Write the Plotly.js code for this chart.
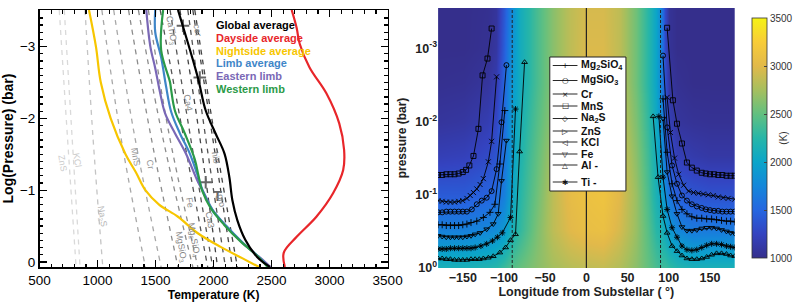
<!DOCTYPE html>
<html><head><meta charset="utf-8">
<script src="https://cdn.plot.ly/plotly-3.0.1.min.js"></script>
<style>body{margin:0;background:#fff}#chart{width:806px;height:307px}</style>
</head><body><div id="chart"></div>
<script>
// ================= LEFT PANEL: T-P profiles =================
const globalT   = [1693,1864,1932,2017,2094,2136,2162,2205,2273,2375,2486];
const globalLP  = [-3.51,-2.57,-2.11,-1.79,-1.51,-1.18,-0.86,-0.58,-0.31,-0.07,0.07];
const daysideT  = [2673,2716,2742,2827,2972,3083,3125,3117,3031,2886,2716,2605,2614];
const daysideLP = [-3.51,-3.26,-3.04,-2.71,-2.35,-1.93,-1.56,-1.28,-0.96,-0.63,-0.35,-0.13,0.07];
const nightT    = [926,986,1028,1113,1241,1330,1412,1530,1693,1864,2060,2250,2392];
const nightLP   = [-3.51,-3.0,-2.5,-2.0,-1.5,-1.25,-1.0,-0.8,-0.63,-0.40,-0.21,-0.05,0.07];
const limbT     = [1497,1497,1548,1590,1633,1710,1795,1864,1910,1990,2110,2250,2390,2475];
const limbLP    = [-3.51,-3.2,-2.85,-2.45,-2.1,-1.79,-1.51,-1.2,-0.98,-0.73,-0.5,-0.27,-0.07,0.07];
const eastT     = [1420,1455,1497,1540,1582,1668,1761,1864,1920,2000,2120,2260,2400,2490];
const eastLP    = [-3.51,-3.0,-2.7,-2.35,-2.07,-1.79,-1.51,-1.12,-0.95,-0.70,-0.48,-0.25,-0.06,0.07];
const westT     = [1565,1548,1625,1634,1668,1752,1838,1870,1900,1975,2090,2230,2380,2465];
const westLP    = [-3.51,-2.95,-2.5,-2.4,-2.1,-1.79,-1.43,-1.2,-1.0,-0.75,-0.52,-0.29,-0.08,0.07];

// condensation curves (T at logP = -3.5, -1.75, 0.07)
const condLP    = [-3.51,-1.75,0.07];
const condNames = ['ZnS','KCl','Na2S','MnS','Cr','MgSiO3','Mg2SiO4','Fe','CaTiO3','Ca4','cor','Ca3','hib','gro'];
const condT = {
  'ZnS':    [670,740,815],
  'KCl':    [713,780,849],
  'Na2S':   [892,960,1045],
  'MnS':    [1037,1200,1412],
  'Cr':     [1139,1320,1548],
  'MgSiO3': [1267,1460,1693],
  'Mg2SiO4':[1352,1560,1821],
  'Fe':     [1438,1620,1864],
  'CaTiO3': [1540,1740,1949],
  'Ca4':    [1625,1800,1992],
  'cor':    [1710,1880,2034],
  'Ca3':    [1778,1930,2102],
  'hib':    [1821,1990,2162],
  'gro':    [1838,2010,2205]
};
const condColor = {
  'ZnS':'#d9d9d9','KCl':'#d9d9d9','Na2S':'#c4c4c4','MnS':'#a8a8a8','Cr':'#a8a8a8',
  'MgSiO3':'#8c8c8c','Mg2SiO4':'#8c8c8c','Fe':'#8c8c8c','CaTiO3':'#555555','Ca4':'#555555',
  'cor':'#444444','Ca3':'#555555','hib':'#444444','gro':'#444444'
};
const condLabels = [
  ['ZnS',696,-1.375,'#cccccc'],['KCl',824,-1.42,'#cccccc'],['Na<sub>2</sub>S',1037,-0.63,'#b8b8b8'],
  ['MnS',1327,-1.46,'#999999'],['Cr',1455,-1.35,'#999999'],['Fe',1795,-0.82,'#888888'],
  ['Mg<sub>2</sub>SiO<sub>4</sub>',1830,-0.30,'#888888'],['MgSiO<sub>3</sub>',1715,-0.21,'#888888'],
  ['CaTiO<sub>3</sub>',1633,-3.22,'#888888'],['Ca4',1778,-2.21,'#888888'],['Ca3',1966,-0.58,'#888888'],
  ['cor',1864,-3.22,'#888888'],['hib',2017,-1.46,'#888888'],['gro',2065,-0.86,'#888888']
];
// crossing marks
const crossT  = [1736,1881,1932];
const crossLP = [-3.29,-2.57,-1.11];
const teeT  = [2034];
const teeLP = [-0.9];

const profileNames  = ['Global average','Dayside average','Nightside average','Limb average','Eastern limb','Western limb'];
const profileColors = ['#000000','#e8262a','#f7c600','#3f86c8','#7a68b6','#2b9a48'];

// ================= RIGHT PANEL: temperature map =================
const lonGrid = [-180,-150,-120,-110,-100,-90,-80,-60,-40,-20,0,20,40,60,75,85,90,95,100,110,130,150,180];
const pGrid   = [2.8e-4,1e-3,3e-3,1e-2,3e-2,1e-1,3e-1,1];
const tempMap = [
 [1000,1000,1020,1080,1400,1800,2100,2400,2650,2850,2950,2950,2850,2550,2250,2000,1800,1300,1050,1000,1000,1000,1000],
 [1000,1000,1030,1100,1450,1850,2100,2400,2650,2850,2970,2970,2850,2550,2250,2000,1800,1300,1050,1000,1000,1000,1000],
 [1020,1030,1080,1180,1500,1900,2100,2400,2650,2870,3000,3000,2870,2550,2250,2000,1800,1350,1100,1030,1000,1000,1000],
 [1080,1100,1180,1280,1550,1950,2150,2450,2700,2920,3030,3040,2900,2600,2300,2050,1850,1450,1200,1080,1050,1040,1040],
 [1200,1220,1300,1380,1600,1950,2200,2500,2780,2980,3070,3090,2950,2650,2350,2100,1950,1600,1350,1200,1150,1120,1120],
 [1420,1420,1480,1550,1700,2000,2250,2550,2850,3050,3110,3140,3000,2700,2400,2150,2050,1800,1600,1450,1380,1350,1350],
 [1700,1700,1750,1800,1900,2150,2300,2600,2850,3000,3070,3090,2950,2700,2450,2250,2200,2050,1900,1750,1650,1650,1650],
 [2150,2150,2200,2250,2350,2450,2520,2650,2750,2820,2850,2870,2800,2650,2500,2400,2350,2350,2300,2220,2150,2150,2150]
];

// condensation fronts: longitude / log10 pressure, west and east of the substellar point
const species = ['Mg<sub>2</sub>SiO<sub>4</sub>','MgSiO<sub>3</sub>','Cr','MnS','Na<sub>2</sub>S','ZnS','KCl','Fe','Al -','Ti -'];
const speciesSymbols = ['cross-thin-open','circle-open','x-thin-open','square-open','diamond-open','triangle-right-open','triangle-left-open','triangle-down-open','triangle-up-open','asterisk-open'];
const legendGlyphs = ['+','○','×','□','◇','▷','◁','▽','△','✱'];

const mnsWLon = [-180,-175,-170,-165,-160,-155,-150,-146,-142,-137,-131,-126,-120,-115];
const mnsWLP  = [-1.27,-1.27,-1.28,-1.28,-1.28,-1.29,-1.31,-1.34,-1.40,-1.53,-1.90,-2.63,-2.86,-3.27];
const mnsELon = [98,105,110,116,122,128,134,140,145,150,155,160,165,170,175,180];
const mnsELP  = [-3.28,-2.29,-1.97,-1.70,-1.44,-1.37,-1.33,-1.30,-1.29,-1.28,-1.28,-1.27,-1.27,-1.26,-1.26,-1.26];

const crWLon = [-180,-175,-170,-165,-160,-155,-150,-145,-141,-137,-133,-129,-125,-119,-115,-109];
const crWLP  = [-0.92,-0.91,-0.90,-0.90,-0.90,-0.91,-0.92,-0.95,-0.99,-1.03,-1.08,-1.14,-1.22,-1.45,-1.73,-2.61];
const crELon = [98,102,107,112,118,124,130,136,142,148,154,160,166,172,180];
const crELP  = [-2.33,-1.85,-1.50,-1.28,-1.13,-1.05,-1.03,-1.02,-1.01,-1.00,-0.99,-0.97,-0.96,-0.95,-0.94];

const mgsio3WLon = [-180,-175,-170,-165,-160,-155,-150,-145,-139,-133,-127,-121,-115,-109,-103,-97];
const mgsio3WLP  = [-0.76,-0.76,-0.77,-0.77,-0.77,-0.77,-0.77,-0.77,-0.80,-0.87,-0.92,-0.96,-1.05,-1.35,-1.99,-2.77];
const mgsio3ELon = [93,98,104,110,116,122,128,134,140,145,150,155,160,165,170,175,180];
const mgsio3ELP  = [-2.90,-1.92,-1.40,-1.15,-0.99,-0.92,-0.87,-0.84,-0.82,-0.80,-0.79,-0.78,-0.78,-0.77,-0.77,-0.77,-0.77];

const mg2sio4WLon = [-180,-175,-170,-165,-160,-155,-150,-145,-140,-133,-125,-117,-111,-105,-99];
const mg2sio4WLP  = [-0.59,-0.59,-0.58,-0.58,-0.58,-0.58,-0.59,-0.60,-0.62,-0.64,-0.69,-0.76,-0.87,-1.42,-2.15];
const mg2sio4ELon = [93,98,104,110,116,122,128,134,140,146,152,158,164,170,175,180];
const mg2sio4ELP  = [-2.31,-1.58,-1.15,-0.92,-0.80,-0.74,-0.70,-0.68,-0.68,-0.67,-0.67,-0.66,-0.65,-0.64,-0.64,-0.63];

const feWLon = [-180,-175,-170,-165,-160,-155,-150,-145,-140,-135,-129,-121,-113,-107,-103,-97];
const feWLP  = [-0.44,-0.43,-0.42,-0.42,-0.42,-0.42,-0.42,-0.43,-0.44,-0.46,-0.48,-0.53,-0.60,-0.74,-1.19,-1.74];
const feELon = [93,98,104,110,116,122,128,134,140,146,152,158,164,170,175,180];
const feELP  = [-2.04,-1.31,-0.98,-0.74,-0.56,-0.51,-0.51,-0.52,-0.54,-0.55,-0.55,-0.54,-0.52,-0.50,-0.48,-0.47];

const tiWLon = [-180,-175,-170,-165,-160,-155,-150,-145,-140,-135,-128,-121,-114,-108,-102,-92,-86];
const tiWLP  = [-0.26,-0.26,-0.26,-0.27,-0.27,-0.27,-0.27,-0.27,-0.27,-0.28,-0.30,-0.33,-0.37,-0.42,-0.48,-0.69,-2.17];
const tiELon = [88,93,98,104,110,116,122,128,134,140,146,152,158,164,170,175,180];
const tiELP  = [-2.07,-1.24,-0.80,-0.55,-0.42,-0.30,-0.25,-0.24,-0.25,-0.28,-0.31,-0.33,-0.33,-0.32,-0.30,-0.29,-0.28];

const alWLon = [-180,-175,-170,-165,-160,-155,-150,-145,-140,-135,-130,-125,-119,-113,-105,-98,-92,-86,-81,-75];
const alWLP  = [-0.13,-0.13,-0.12,-0.12,-0.11,-0.11,-0.11,-0.11,-0.12,-0.12,-0.12,-0.13,-0.14,-0.16,-0.21,-0.28,-0.38,-0.46,-1.59,-2.81];
const alELon = [81,87,93,98,104,110,116,122,128,134,140,146,152,158,164,170,175,180];
const alELP  = [-2.07,-1.24,-0.71,-0.48,-0.30,-0.23,-0.17,-0.13,-0.12,-0.12,-0.13,-0.15,-0.18,-0.20,-0.20,-0.19,-0.17,-0.16];

const terminators = [-90, 90];
const substellar = [0];

// parula-like colour map, as it appears in the reference colour bar
const colormap = [[0,'#352f8c'],[0.1,'#3443c0'],[0.2,'#2566e0'],[0.3,'#1487da'],[0.4,'#0ba5c9'],
  [0.5,'#27b6a8'],[0.6,'#62c080'],[0.7,'#a6bf5e'],[0.8,'#e2b94a'],[0.9,'#f8cc38'],[1,'#f5f315']];

// ================= BUILD =================
const W = 806, H = 307;
const px = v => v / W, py = v => 1 - v / H;
const toP = a => a.map(v => Math.pow(10, v));
const F = 'Liberation Sans, Arial, sans-serif';
const traces = [];

condNames.forEach(n => traces.push({
  x: condT[n], y: condLP, xaxis:'x', yaxis:'y', mode:'lines', type:'scatter', showlegend:false,
  line:{color:condColor[n], width:1.3, dash:'5px,5px', shape:'spline'}, hoverinfo:'skip'
}));
traces.push({x:crossT, y:crossLP, xaxis:'x', yaxis:'y', mode:'markers', showlegend:false,
  marker:{symbol:'cross-thin-open', size:9, color:'#666', line:{width:2, color:'#666'}}});
traces.push({x:teeT, y:teeLP, xaxis:'x', yaxis:'y', mode:'text', text:['<b>T</b>'], showlegend:false,
  textfont:{family:F, size:14, color:'#666'}});
const profX = [globalT, daysideT, nightT, limbT, eastT, westT];
const profY = [globalLP, daysideLP, nightLP, limbLP, eastLP, westLP];
[4,3,5,2,0,1].forEach(i => traces.push({
  x: profX[i], y: profY[i], xaxis:'x', yaxis:'y', mode:'lines', showlegend:false,
  line:{color:profileColors[i], width:2.2, shape:'spline'}
}));

traces.push({
  type:'heatmap', x: lonGrid, y: pGrid, z: tempMap, xaxis:'x2', yaxis:'y2', zsmooth:'best',
  zmin:1000, zmax:3500, showscale:true, colorscale: colormap,
  colorbar:{x:px(750), xanchor:'left', y:py(268), yanchor:'bottom', len:260/H, lenmode:'fraction',
    thickness:15, thicknessmode:'pixels', outlinewidth:0.8, outlinecolor:'#333',
    tickvals:[1000,1500,2000,2500,3000,3500], ticks:'inside', ticklen:3, tickfont:{family:F, size:10, color:'#333'},
    title:{text:'(K)', side:'right', font:{family:F, size:10, color:'#333'}}}
});

const speciesData = {
  'Mg<sub>2</sub>SiO<sub>4</sub>':[mg2sio4WLon,mg2sio4WLP,mg2sio4ELon,mg2sio4ELP],
  'MgSiO<sub>3</sub>':[mgsio3WLon,mgsio3WLP,mgsio3ELon,mgsio3ELP],
  'Cr':[crWLon,crWLP,crELon,crELP],
  'MnS':[mnsWLon,mnsWLP,mnsELon,mnsELP],
  'Fe':[feWLon,feWLP,feELon,feELP],
  'Al -':[alWLon,alWLP,alELon,alELP],
  'Ti -':[tiWLon,tiWLP,tiELon,tiELP]
};
species.forEach((s,i) => {
  const d = speciesData[s];
  if (!d) return;
  [[d[0],d[1]],[d[2],d[3]]].forEach(seg => traces.push({
    x: seg[0], y: toP(seg[1]), xaxis:'x2', yaxis:'y2', mode:'lines+markers', showlegend:false,
    line:{color:'#000', width:0.9},
    marker:{symbol:speciesSymbols[i], size:5, color:'#000', line:{width:0.9, color:'#000'}}
  }));
});

const shapes = [];
terminators.forEach(t => shapes.push({type:'line', xref:'x2', yref:'paper', x0:t, x1:t, y0:py(268), y1:py(8),
  line:{color:'#222', width:1, dash:'3px,2px'}}));
substellar.forEach(t => shapes.push({type:'line', xref:'x2', yref:'paper', x0:t, x1:t, y0:py(268), y1:py(8),
  line:{color:'#222', width:1.2}}));

const annotations = [];
// legend box (right panel): frame, sample lines, glyphs, names
const legTextY = [63, 78, 94, 106, 116, 131, 142, 154, 165, 182];
shapes.push({type:'rect', xref:'paper', yref:'paper', x0:px(556), x1:px(633), y0:py(191), y1:py(57),
  fillcolor:'#fff', line:{color:'#222', width:1}, layer:'above'});
species.forEach((s,i) => {
  const hasSub = s.indexOf('<sub>') >= 0;
  const ly = legTextY[i] + (hasSub ? 2.5 : 0);
  shapes.push({type:'line', xref:'paper', yref:'paper', x0:px(559), x1:px(584), y0:py(ly), y1:py(ly),
    line:{color:'#111', width:0.9}, layer:'above'});
  annotations.push({xref:'paper', yref:'paper', x:px(571.5), y:py(ly), xanchor:'center', yanchor:'middle',
    showarrow:false, text:legendGlyphs[i], font:{family:'DejaVu Sans', size:7.5, color:'#111'}});
  annotations.push({xref:'paper', yref:'paper', x:px(586), y:py(legTextY[i] + (hasSub ? 2 : 0)), xanchor:'left', yanchor:'middle',
    showarrow:false, text:'<b>'+s+'</b>', font:{family:F, size:10.5, color:'#111'}});
});
profileNames.forEach((n,i) => annotations.push({xref:'paper', yref:'paper', x:px(216), y:py(25+12.8*i),
  xanchor:'left', yanchor:'middle', text:'<b>'+n+'</b>', showarrow:false, font:{family:F, size:11, color:profileColors[i]}}));
condLabels.forEach(l => annotations.push({xref:'x', yref:'y', x:l[1], y:l[2], text:l[0], showarrow:false,
  textangle:80, font:{family:F, size:9, color:l[3]}}));

const layout = {
  width:W, height:H, margin:{l:0,r:0,t:0,b:0}, paper_bgcolor:'#fff', plot_bgcolor:'#fff',
  showlegend:false, shapes, annotations,
  xaxis:{domain:[px(40),px(392)], range:[500,3500], tickvals:[500,1000,1500,2000,2500,3000,3500],
    ticks:'inside', ticklen:7, tickwidth:1.3, tickcolor:'#000', mirror:'ticks', showline:true, linecolor:'#000', linewidth:1.5,
    showgrid:false, zeroline:false, tickfont:{family:F, size:13.5, color:'#000'},
    minor:{dtick:100, ticklen:3.5, ticks:'inside', tickcolor:'#000'},
    title:{text:'<b>Temperature (K)</b>', font:{family:F, size:12, color:'#000'}, standoff:4}},
  yaxis:{domain:[py(267),py(10)], range:[0.07,-3.51], tickvals:[-3,-2,-1,0], ticktext:['−3','−2','−1','0'],
    ticks:'inside', ticklen:7, tickwidth:1.3, tickcolor:'#000', mirror:'ticks', showline:true, linecolor:'#000', linewidth:1.5,
    showgrid:false, zeroline:false, tickfont:{family:F, size:13.5, color:'#000'},
    minor:{dtick:0.1, ticklen:3.5, ticks:'inside', tickcolor:'#000'},
    title:{text:'<b>Log(Pressure) (bar)</b>', font:{family:F, size:14, color:'#000'}, standoff:5}},
  xaxis2:{domain:[px(443),px(743)], range:[-180,180], tickvals:[-150,-100,-50,0,50,100,150],
    ticks:'', showgrid:false, zeroline:false, showline:false, anchor:'y2',
    tickfont:{family:F, size:12.5, color:'#222', weight:'bold'},
    title:{text:'<b>Longitude from Substellar ( °)</b>', font:{family:F, size:12.5, color:'#222'}, standoff:2}},
  yaxis2:{domain:[py(268),py(8)], type:'log', range:[0,-3.55], anchor:'x2',
    tickvals:[1e-3,1e-2,1e-1,1], ticktext:['10<sup>-3</sup>','10<sup>-2</sup>','10<sup>-1</sup>','10<sup>0</sup>'],
    ticks:'', showgrid:false, zeroline:false, showline:false,
    tickfont:{family:F, size:12.5, color:'#222', weight:'bold'},
    title:{text:'<b>pressure (bar)</b>', font:{family:F, size:12, color:'#222'}, standoff:6}}
};
Plotly.newPlot('chart', traces, layout, {displayModeBar:false, staticPlot:true});
</script></body></html>
